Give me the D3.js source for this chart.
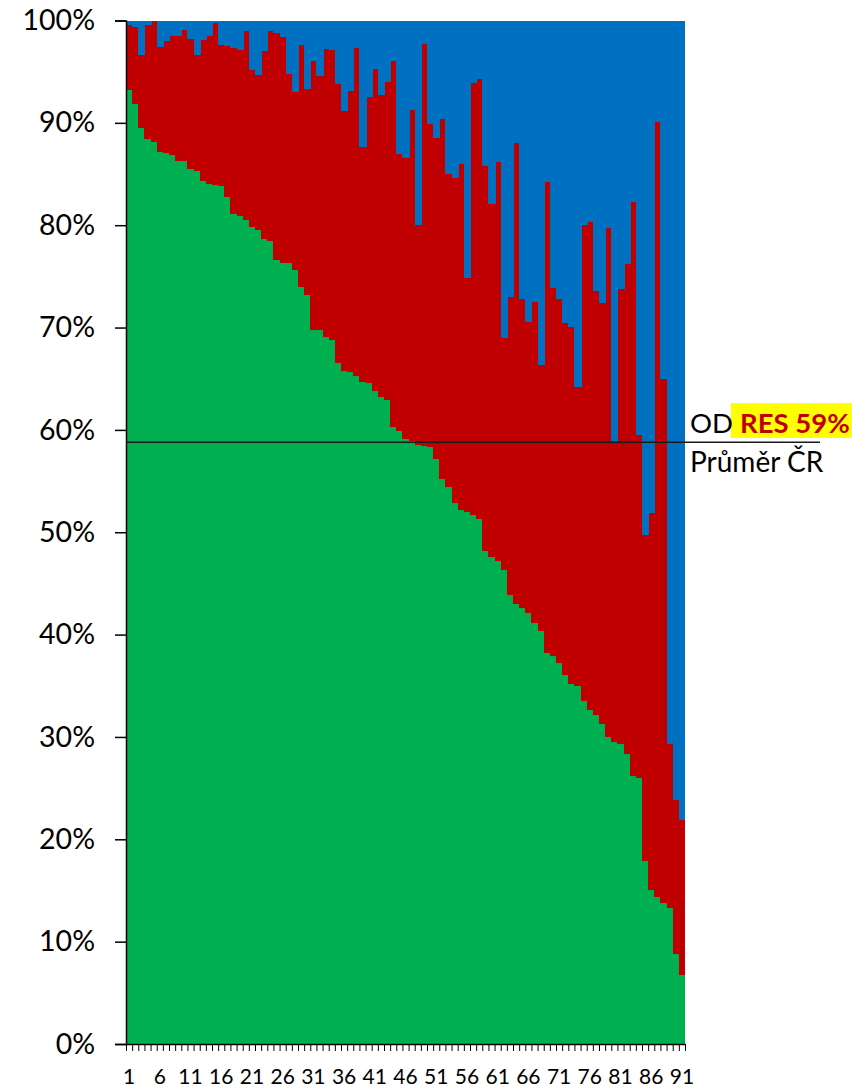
<!DOCTYPE html>
<html>
<head>
<meta charset="utf-8">
<script src="https://cdn.jsdelivr.net/npm/d3@7"></script>
<style>
  html, body { margin: 0; padding: 0; background: #ffffff; }
  svg { display: block; }
  text { font-family: Lato, "Open Sans", sans-serif; fill: #000; }
</style>
</head>
<body>
<script>
// ---- data (percent shares per category) ----
const categories = d3.range(1, 92);
const greenShare = [93.2,91.8,89.5,88.4,88.1,87.2,87.1,86.9,86.3,86.3,85.5,85.3,84.3,84.0,83.9,83.8,82.8,81.1,80.9,80.5,
  79.8,79.5,78.7,78.5,76.6,76.3,76.3,75.6,74.0,73.2,69.8,69.8,69.1,68.8,66.5,65.8,65.7,65.3,64.7,64.6,
  63.8,63.2,62.9,60.3,59.9,59.1,58.9,58.5,58.4,58.3,57.2,55.2,54.4,52.9,52.2,52.0,51.7,51.3,48.2,47.6,
  47.2,46.3,43.9,43.0,42.6,42.1,41.1,40.4,38.2,37.9,37.2,36.1,35.2,35.0,33.5,32.6,32.1,31.3,30.0,29.5,
  29.3,28.3,26.2,26.0,17.9,15.0,14.4,13.8,13.3,8.8,6.7];
const redShare = [6.4,7.6,7.1,11.2,11.9,10.2,10.9,11.6,12.2,12.8,12.7,11.3,13.8,14.5,15.9,13.8,14.7,16.2,16.2,18.5,
  15.4,15.2,18.3,20.5,22.2,22.1,18.5,17.4,23.6,20.1,26.2,24.8,28.1,28.3,27.3,25.4,27.4,32.0,22.9,27.9,
  31.5,29.5,31.1,35.7,27.1,27.5,32.4,21.5,39.3,31.6,31.3,35.2,30.6,31.7,33.8,22.8,42.2,43.0,37.6,34.5,
  39.0,22.7,29.1,45.0,30.2,28.4,31.4,25.9,46.0,36.0,35.6,34.3,34.9,29.2,46.5,47.7,41.5,41.1,49.7,29.4,
  44.5,47.9,56.1,33.5,31.8,36.9,75.7,51.2,16.0,15.0,15.2];
const blueShare = [0.4,0.6,3.4,0.4,0.0,2.6,2.0,1.5,1.5,0.9,1.8,3.4,1.9,1.5,0.2,2.4,2.5,2.7,2.9,1.0,
  4.8,5.3,3.0,1.0,1.2,1.6,5.2,7.0,2.4,6.7,4.0,5.4,2.8,2.9,6.2,8.8,6.9,2.7,12.4,7.5,
  4.7,7.3,6.0,4.0,13.0,13.4,8.7,20.0,2.3,10.1,11.5,9.6,15.0,15.4,14.0,25.2,6.1,5.7,14.2,17.9,
  13.8,31.0,27.0,12.0,27.2,29.5,27.5,33.7,15.8,26.1,27.2,29.6,29.9,35.8,20.0,19.7,26.4,27.6,20.3,41.1,
  26.2,23.8,17.7,40.5,50.3,48.1,9.9,35.0,70.7,76.2,78.1];
const seriesKeys = ["green", "red", "blue"];
const seriesColors = ["#00B050", "#C00000", "#0070C0"];
const yTickValues = [0,10,20,30,40,50,60,70,80,90,100];
const xTickLabels = [1,6,11,16,21,26,31,36,41,46,51,56,61,66,71,76,81,86,91];
const averageValue = 58.8;
const labelTop = ["OD ", "RES 59%"];
const labelBottom = "Průměr ČR";

// ---- build table for the stack ----
const table = categories.map((c, i) => ({cat: c, green: greenShare[i], red: redShare[i], blue: blueShare[i]}));

const W = 852, H = 1088;
const plotLeft = 126, plotRight = 685, plotTop = 20.5, plotBottom = 1044;

const svg = d3.select("body").append("svg").attr("width", W).attr("height", H);

const x = d3.scaleBand().domain(categories).range([plotLeft, plotRight]).padding(0);
const xEdge = d3.scaleLinear().domain([0, categories.length]).range([plotLeft, plotRight]);
const y = d3.scaleLinear().domain([0, 100]).range([plotBottom, plotTop]);
const color = d3.scaleOrdinal().domain(seriesKeys).range(seriesColors);

const stacked = d3.stack().keys(seriesKeys)(table);

svg.append("g").attr("shape-rendering", "crispEdges")
  .selectAll("g").data(stacked).join("g")
  .attr("fill", d => color(d.key))
  .selectAll("rect").data(d => d).join("rect")
  .attr("x", d => x(d.data.cat))
  .attr("width", d => d.data.cat === categories[categories.length - 1] ? x.bandwidth() : x.bandwidth() + 1)
  .attr("y", d => y(d[1]))
  .attr("height", d => Math.max(0, y(d[0]) - y(d[1])));

// ---- y axis ----
const yAxis = svg.append("g").attr("transform", `translate(${plotLeft},0)`)
  .call(d3.axisLeft(y).tickValues(yTickValues).tickFormat(d => d + "%").tickSize(11).tickPadding(20));
yAxis.select(".domain").attr("stroke", "#000").attr("stroke-width", 1.5);
yAxis.selectAll(".tick line").attr("stroke", "#000").attr("stroke-width", 1.5);
yAxis.selectAll(".tick text").style("font-size", "28.5px").style("font-family", "Lato, 'Open Sans', sans-serif").attr("fill", "#000");

// ---- x axis: boundary ticks ----
const xTicks = svg.append("g").attr("transform", `translate(0,${plotBottom})`)
  .call(d3.axisBottom(xEdge).tickValues(d3.range(0, categories.length + 1)).tickFormat("").tickSize(7).tickSizeOuter(0));
xTicks.select(".domain").attr("stroke", "#000").attr("stroke-width", 1.5);
xTicks.selectAll(".tick line").attr("stroke", "#000").attr("stroke-width", 1);

// ---- x axis: labels ----
const xLabels = svg.append("g").attr("transform", `translate(0,${plotBottom})`)
  .call(d3.axisBottom(x).tickValues(xTickLabels).tickSize(0).tickPadding(25));
xLabels.select(".domain").remove();
xLabels.selectAll(".tick text").style("font-size", "21px").style("font-family", "Lato, 'Open Sans', sans-serif").attr("fill", "#000");

// ---- average line ----
svg.append("line")
  .attr("x1", plotLeft).attr("x2", 820)
  .attr("y1", y(averageValue)).attr("y2", y(averageValue))
  .attr("stroke", "#1a1a1a").attr("stroke-width", 1.6);

// ---- label ----
const lblX = 690;
const labelG = svg.append("g");
const hl = labelG.append("rect").attr("fill", "#FFFF00");
const t1 = labelG.append("text").attr("x", lblX).attr("y", 433).style("font-size", "27.5px");
t1.append("tspan").text(labelTop[0]);
t1.append("tspan").text(labelTop[1]).attr("font-weight", "bold").style("fill", "#C00000");
const tmp = labelG.append("text").style("font-size", "27.5px").text(labelTop[0]);
const odW = tmp.node().getComputedTextLength();
tmp.remove();
hl.attr("x", lblX + odW - 2).attr("y", 403)
  .attr("width", W - (lblX + odW - 2)).attr("height", 35);
labelG.append("text").attr("x", lblX).attr("y", 472).style("font-size", "28px").text(labelBottom);
</script>
</body>
</html>
